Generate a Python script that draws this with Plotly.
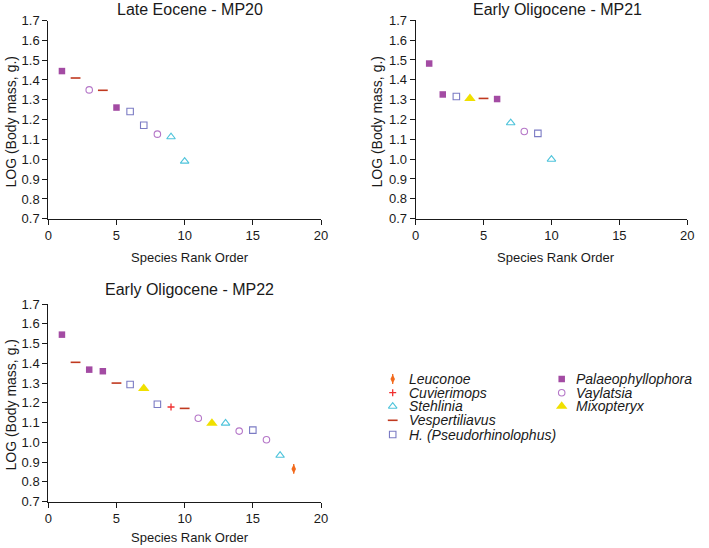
import plotly.graph_objects as go

W, H = 709, 548

# ---------------- data ----------------
mp20_rank = [1, 2, 3, 4, 5, 6, 7, 8, 9, 10]
mp20_logmass = [1.445, 1.410, 1.350, 1.348, 1.261, 1.241, 1.172, 1.127, 1.113, 0.990]
mp20_genus = ["Palaeophyllophora", "Vespertiliavus", "Vaylatsia", "Vespertiliavus",
              "Palaeophyllophora", "H. (Pseudorhinolophus)", "H. (Pseudorhinolophus)",
              "Vaylatsia", "Stehlinia", "Stehlinia"]

mp21_rank = [1, 2, 3, 4, 5, 6, 7, 8, 9, 10]
mp21_logmass = [1.482, 1.326, 1.316, 1.306, 1.306, 1.303, 1.183, 1.139, 1.130, 0.999]
mp21_genus = ["Palaeophyllophora", "Palaeophyllophora", "H. (Pseudorhinolophus)",
              "Mixopteryx", "Vespertiliavus", "Palaeophyllophora", "Stehlinia",
              "Vaylatsia", "H. (Pseudorhinolophus)", "Stehlinia"]

mp22_rank = [1, 2, 3, 4, 5, 6, 7, 8, 9, 10, 11, 12, 13, 14, 15, 16, 17, 18]
mp22_logmass = [1.545, 1.405, 1.368, 1.360, 1.300, 1.293, 1.272, 1.193, 1.179, 1.172,
                1.122, 1.097, 1.097, 1.057, 1.062, 1.013, 0.934, 0.866]
mp22_genus = ["Palaeophyllophora", "Vespertiliavus", "Palaeophyllophora", "Palaeophyllophora",
              "Vespertiliavus", "H. (Pseudorhinolophus)", "Mixopteryx", "H. (Pseudorhinolophus)",
              "Cuvierimops", "Vespertiliavus", "Vaylatsia", "Mixopteryx", "Stehlinia",
              "Vaylatsia", "H. (Pseudorhinolophus)", "Vaylatsia", "Stehlinia", "Leuconoe"]

panel_titles = ["Late Eocene - MP20", "Early Oligocene - MP21", "Early Oligocene - MP22"]
x_title = "Species Rank Order"
y_title = "LOG (Body mass, g.)"
x_ticks = [0, 5, 10, 15, 20]
y_ticks = [0.7, 0.8, 0.9, 1.0, 1.1, 1.2, 1.3, 1.4, 1.5, 1.6, 1.7]
legend_col1 = ["Leuconoe", "Cuvierimops", "Stehlinia", "Vespertiliavus", "H. (Pseudorhinolophus)"]
legend_col2 = ["Palaeophyllophora", "Vaylatsia", "Mixopteryx"]

# ---------------- styles ----------------
FONT = "Liberation Sans, Arial, Helvetica, sans-serif"
INK = "#1a1a1a"
STYLE = {
    "Palaeophyllophora": dict(symbol="square", color="#A34BA3", size=6.5, lw=0),
    "Vaylatsia": dict(symbol="circle-open", color="#B577C8", size=6.5, lw=1.1),
    "H. (Pseudorhinolophus)": dict(symbol="square-open", color="#7B7BC4", size=6.5, lw=1.1),
    "Stehlinia": dict(symbol="triangle-up-open", color="#4FC4DB", size=7.5, lw=1.1),
    "Mixopteryx": dict(symbol="triangle-up", color="#F0E000", size=10, lw=0),
    "Vespertiliavus": dict(symbol="line-ew", color="#C0391F", size=7, lw=1.6),
    "Cuvierimops": dict(symbol="cross-thin", color="#F03030", size=5, lw=1.3),
    "Leuconoe": dict(symbol="diamond-tall", color="#F26B1D", size=6.5, lw=0),
}


def px_dom_x(a, b):
    return [a / W, b / W]


def px_dom_y(top, bottom):
    return [1 - bottom / H, 1 - top / H]


# panel geometry (pixels)
PANELS = [
    dict(xa="x", ya="y", xd=(48.3, 321), yd=(20.5, 218.8)),
    dict(xa="x2", ya="y2", xd=(415.6, 687.3), yd=(20.3, 218.6)),
    dict(xa="x3", ya="y3", xd=(48.3, 321), yd=(304, 501.7)),
]
DATA = [(mp20_rank, mp20_logmass, mp20_genus),
        (mp21_rank, mp21_logmass, mp21_genus),
        (mp22_rank, mp22_logmass, mp22_genus)]


def marker_for(g):
    s = STYLE[g]
    return dict(symbol=s["symbol"], color=s["color"], size=s["size"],
                line=dict(width=s["lw"], color=s["color"]))


fig = go.Figure()

for p, (ranks, vals, genus) in zip(PANELS, DATA):
    for g in STYLE:
        xs = [r for r, gg in zip(ranks, genus) if gg == g]
        ys = [v for v, gg in zip(vals, genus) if gg == g]
        if not xs:
            continue
        fig.add_trace(go.Scatter(x=xs, y=ys, mode="markers", marker=marker_for(g),
                                 xaxis=p["xa"], yaxis=p["ya"], cliponaxis=False,
                                 showlegend=False, hoverinfo="x+y"))
        if g == "Leuconoe":
            fig.add_trace(go.Scatter(x=xs, y=ys, mode="markers",
                                     marker=dict(symbol="line-ns", size=7, color=STYLE[g]["color"],
                                                 line=dict(width=1.3, color=STYLE[g]["color"])),
                                     xaxis=p["xa"], yaxis=p["ya"], cliponaxis=False,
                                     showlegend=False, hoverinfo="skip"))

# ---------------- custom legend (pixel-space overlay axis) ----------------
LEG_COLS = [
    dict(items=legend_col1, xs=392.7, xt=406.7),
    dict(items=legend_col2, xs=561.7, xt=573.5),
]
LEG_ROW_Y = [379.0, 392.7, 406.3, 420.3, 434.5]

annotations = []
for col in LEG_COLS:
    for i, g in enumerate(col["items"]):
        y = LEG_ROW_Y[i]
        fig.add_trace(go.Scatter(x=[col["xs"]], y=[y], mode="markers", marker=marker_for(g),
                                 xaxis="x4", yaxis="y4", cliponaxis=False,
                                 showlegend=False, hoverinfo="skip"))
        if g == "Leuconoe":
            fig.add_trace(go.Scatter(x=[col["xs"]], y=[y], mode="markers",
                                     marker=dict(symbol="line-ns", size=7, color=STYLE[g]["color"],
                                                 line=dict(width=1.3, color=STYLE[g]["color"])),
                                     xaxis="x4", yaxis="y4", cliponaxis=False,
                                     showlegend=False, hoverinfo="skip"))
        annotations.append(dict(x=col["xt"], y=y, xref="x4", yref="y4", text="<i>%s</i>" % g,
                                showarrow=False, xanchor="left", yanchor="middle",
                                font=dict(family=FONT, size=14, color=INK)))

# titles and axis titles
TITLE_POS = [(189.5, 9.5), (557.5, 9.5), (189.5, 289.0)]
XT_POS = [(189.7, 257.5), (556.0, 257.5), (189.5, 537.0)]
YT_POS = [(10.5, 122.0), (376.5, 122.0), (10.5, 405.0)]
for t, (tx, ty), (xx, xy), (yx, yy) in zip(panel_titles, TITLE_POS, XT_POS, YT_POS):
    annotations.append(dict(x=tx, y=ty, xref="x4", yref="y4", text=t, showarrow=False,
                            xanchor="center", yanchor="middle",
                            font=dict(family=FONT, size=16, color=INK)))
    annotations.append(dict(x=xx, y=xy, xref="x4", yref="y4", text=x_title, showarrow=False,
                            xanchor="center", yanchor="middle",
                            font=dict(family=FONT, size=13, color=INK)))
    annotations.append(dict(x=yx, y=yy, xref="x4", yref="y4", text=y_title, showarrow=False,
                            xanchor="center", yanchor="middle", textangle=-90,
                            font=dict(family=FONT, size=14, color=INK)))

axis_common = dict(showline=True, linecolor=INK, linewidth=1, ticks="outside", ticklen=5,
                   tickwidth=1, tickcolor=INK, showgrid=False, zeroline=False, automargin=False,
                   tickfont=dict(family=FONT, size=13, color=INK), fixedrange=True)

layout = dict(template="none", width=W, height=H,
              margin=dict(l=0, r=0, t=0, b=0, pad=0, autoexpand=False),
              paper_bgcolor="white", plot_bgcolor="rgba(0,0,0,0)",
              showlegend=False, font=dict(family=FONT, color=INK),
              annotations=annotations)

for i, p in enumerate(PANELS):
    n = "" if i == 0 else str(i + 1)
    layout["xaxis" + n] = dict(axis_common, domain=px_dom_x(*p["xd"]), range=[0, 20],
                               tickvals=x_ticks, anchor="y" + n)
    layout["yaxis" + n] = dict(axis_common, domain=px_dom_y(*p["yd"]), range=[0.7, 1.7],
                               tickvals=y_ticks, tickformat=".1f", anchor="x" + n)

layout["xaxis4"] = dict(domain=[0, 1], range=[0, W], visible=False, anchor="y4",
                        fixedrange=True, automargin=False)
layout["yaxis4"] = dict(domain=[0, 1], range=[H, 0], visible=False, anchor="x4",
                        fixedrange=True, automargin=False)

fig.update_layout(**layout)
fig.write_html("out.html", config={"displayModeBar": False},
               post_script="document.body.style.margin='0px';document.body.style.overflow='hidden';")
